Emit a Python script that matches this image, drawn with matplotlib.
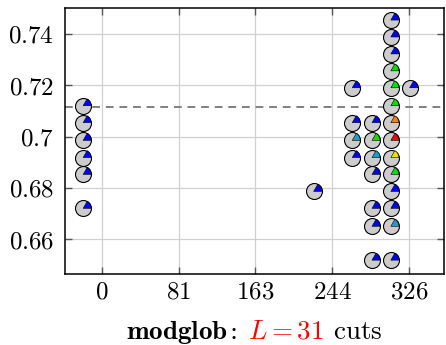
import matplotlib.pyplot as plt
from matplotlib.path import Path
from matplotlib.offsetbox import TextArea, HPacker, AnchoredOffsetbox

plt.rcParams['mathtext.fontset'] = 'cm'
plt.rcParams['font.family'] = 'serif'
plt.rcParams['font.serif'] = ['DejaVu Serif']

# Points (cuts vs. objective value, with wedge colour)
cuts = [-20, -20, -20, -20, -20, -20,
        225,
        266, 266, 266, 266,
        287, 287, 287, 287, 287, 287, 287,
        307, 307, 307, 307, 307, 307, 307, 307, 307, 307, 307, 307, 307, 307,
        327]
values = [0.712, 0.7054, 0.6985, 0.6918, 0.6852, 0.672,
          0.6786,
          0.719, 0.7054, 0.6985, 0.6918,
          0.7054, 0.6985, 0.6918, 0.6852, 0.672, 0.665, 0.6518,
          0.7454, 0.7388, 0.7322, 0.7256, 0.719, 0.712, 0.7054, 0.6985, 0.6918,
          0.6852, 0.6786, 0.672, 0.665, 0.6518,
          0.719]
wedge_colors = ['blue', 'blue', 'blue', 'blue', 'blue', 'blue',
                'blue',
                'blue', 'blue', 'cyan', 'blue',
                'blue', 'green', 'cyan', 'blue', 'blue', 'blue', 'blue',
                'blue', 'blue', 'blue', 'green', 'green', 'green', 'orange', 'red', 'yellow',
                'green', 'blue', 'blue', 'cyan', 'blue',
                'blue']
color_map = {'blue': '#0000ff', 'green': '#00e000', 'cyan': '#1aa0c8',
             'orange': '#ff8000', 'red': '#ff0000', 'yellow': '#e8e000'}

baseline = 0.7117
xticks = [0, 81.5, 163, 244.5, 326]
xtick_labels = ['0', '81', '163', '244', '326']
yticks = [0.66, 0.68, 0.70, 0.72, 0.74]
ytick_labels = ['0.66', '0.68', '0.7', '0.72', '0.74']

fig = plt.figure(figsize=(4.46, 3.45), dpi=100)
ax = fig.add_axes([0.1457, 0.2058, 0.8498, 0.771])

ax.axhline(baseline, color='#808080', linestyle=(0, (4, 3)), linewidth=1.4, zorder=2)

wedge = Path.wedge(0, 60)
ax.scatter(cuts, values, s=11.5**2, marker='o', facecolor='#cccccc',
           edgecolor='black', linewidths=0.8, zorder=3)
ax.scatter(cuts, values, s=11.5**2, marker=wedge,
           facecolor=[color_map[c] for c in wedge_colors],
           edgecolor='black', linewidths=0.4, zorder=4)

ax.set_xlim(-39.3, 363.5)
ax.set_ylim(0.6464, 0.7501)
ax.set_xticks(xticks)
ax.set_xticklabels(['$%s$' % t for t in xtick_labels])
ax.set_yticks(yticks)
ax.set_yticklabels(['$%s$' % t for t in ytick_labels])
ax.tick_params(direction='in', length=5, width=1, color='#555555',
               top=True, right=True, labelsize=18)
ax.tick_params(axis='x', pad=5)
ax.tick_params(axis='y', pad=8)
ax.grid(True, color='#d0d0d0', linewidth=0.9, zorder=0)
ax.set_axisbelow(True)
for sp in ax.spines.values():
    sp.set_linewidth(1.1)

# x label: bold name, red L = 31, then "cuts"
fs = 19.5
name = HPacker(children=[TextArea(r'$\mathbf{modglob}$', textprops=dict(size=fs)),
                         TextArea(':', textprops=dict(size=fs - 2))],
               align='baseline', pad=0, sep=1)
parts = [name,
         TextArea(r'$L = 31$', textprops=dict(size=fs, color='red')),
         TextArea(r'$\mathrm{cuts}$', textprops=dict(size=fs))]
box = HPacker(children=parts, align='baseline', pad=0, sep=7)
anchored = AnchoredOffsetbox(loc='upper center', child=box, pad=0, frameon=False,
                             bbox_to_anchor=(0.5, -0.165),
                             bbox_transform=ax.transAxes, borderpad=0)
ax.add_artist(anchored)

fig.savefig('out.png', dpi=100)
